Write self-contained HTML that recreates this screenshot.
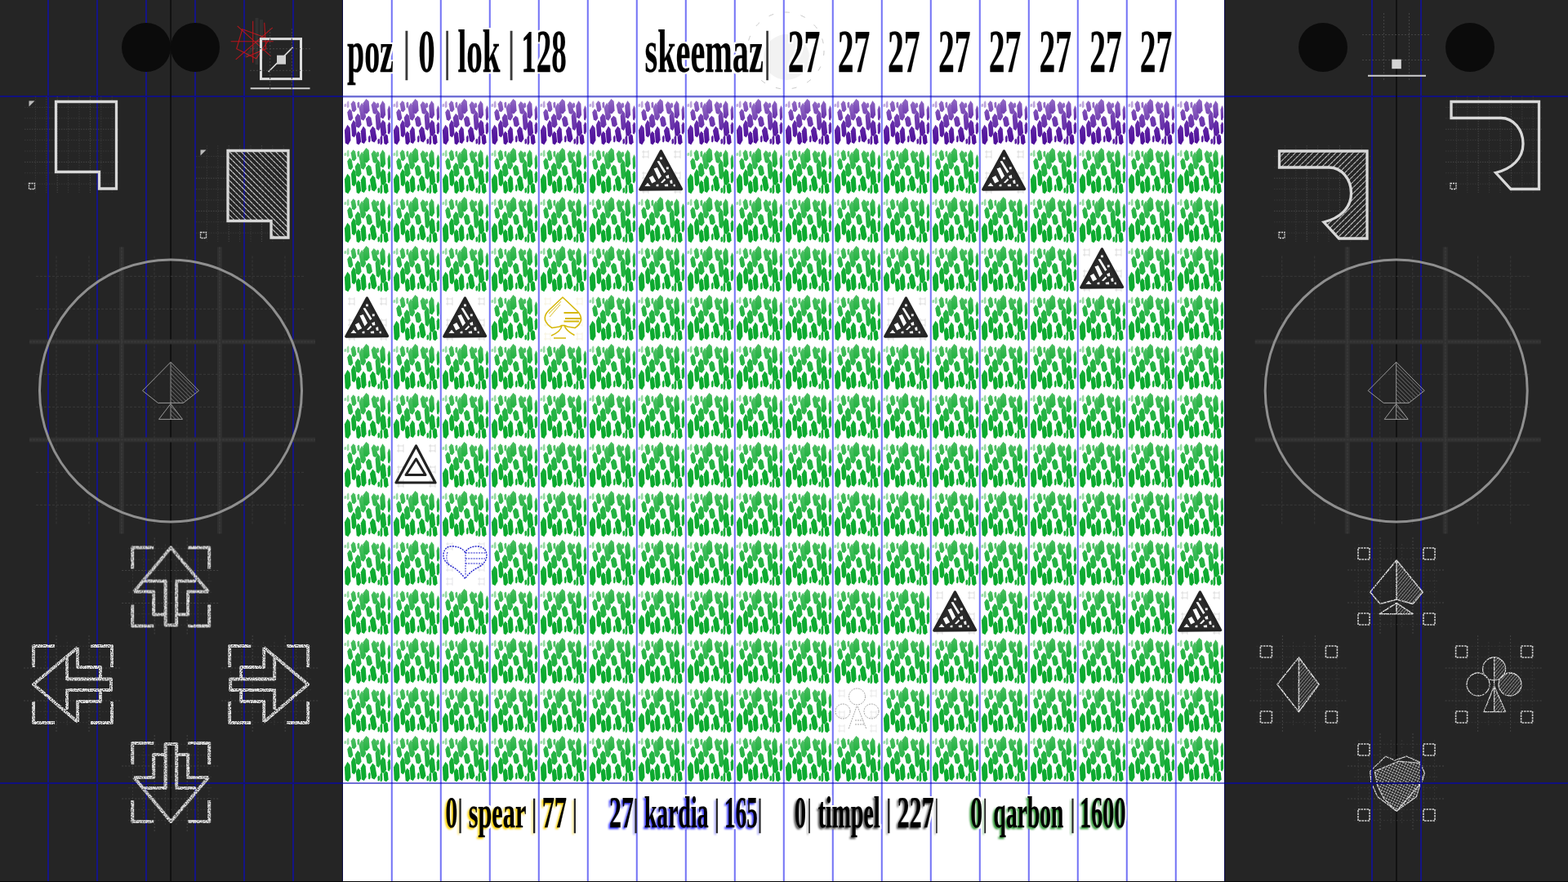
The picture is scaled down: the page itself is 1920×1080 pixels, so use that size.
<!DOCTYPE html><html><head><meta charset="utf-8"><title>board</title><style>html,body{margin:0;padding:0;background:#252525;overflow:hidden;width:1920px;height:1080px}svg{display:block}text{font-family:"Liberation Serif",serif;font-weight:bold}</style></head><body>
<svg width="1920" height="1080" viewBox="0 0 1920 1080">
<defs>
<linearGradient id="gG" gradientUnits="userSpaceOnUse" x1="0" y1="2" x2="0" y2="57"><stop offset="0" stop-color="#48bd5e"/><stop offset="0.35" stop-color="#1cb03c"/><stop offset="1" stop-color="#06a82a"/></linearGradient>
<linearGradient id="gP" gradientUnits="userSpaceOnUse" x1="0" y1="2" x2="0" y2="57"><stop offset="0" stop-color="#9068c4"/><stop offset="0.4" stop-color="#6a34ac"/><stop offset="1" stop-color="#4c0c98"/></linearGradient>
<pattern id="pG" patternUnits="userSpaceOnUse" x="420" y="120" width="60" height="60"><path fill="url(#gG)" fill-opacity="1.0" d="M5.5 32.8L8.7 36.7L9.5 51.8L6.3 57.2L2.7 55.2L1.9 39.6Z"/><path fill="url(#gG)" fill-opacity="0.95" d="M8.1 13.3L10.7 15.7L12.3 24.8L9.8 28.0L6.9 26.8L5.2 17.4Z"/><path fill="url(#gG)" fill-opacity="0.95" d="M12.5 3.3L15.0 5.5L16.5 14.1L13.9 17.2L11.1 16.1L9.7 7.2Z"/><path fill="url(#gG)" fill-opacity="1.0" d="M12.9 26.7L15.5 30.2L16.5 43.5L13.8 48.3L10.9 46.6L10.0 32.7Z"/><path fill="url(#gG)" fill-opacity="0.95" d="M18.0 18.9L21.1 21.7L22.6 32.8L19.5 36.7L16.1 35.3L14.7 23.9Z"/><path fill="url(#gG)" fill-opacity="1.0" d="M18.6 40.6L21.1 43.3L22.1 53.5L19.5 57.2L16.7 55.9L15.8 45.2Z"/><path fill="url(#gG)" fill-opacity="0.9" d="M18.9 4.4L20.2 5.6L20.4 10.5L19.0 12.2L17.6 11.6L17.4 6.6Z"/><path fill="url(#gG)" fill-opacity="0.9" d="M22.9 6.1L25.8 9.6L28.2 23.0L25.2 27.8L22.0 26.1L19.6 12.2Z"/><path fill="url(#gG)" fill-opacity="1.0" d="M28.4 1.1L31.7 4.0L32.6 15.4L29.2 19.4L25.5 17.9L24.6 6.2Z"/><path fill="url(#gG)" fill-opacity="1.0" d="M24.9 34.4L27.7 37.9L28.6 51.3L25.9 56.1L22.8 54.4L21.8 40.5Z"/><path fill="url(#gG)" fill-opacity="0.95" d="M31.3 21.7L34.3 23.9L36.0 32.5L33.0 35.6L29.6 34.5L27.9 25.6Z"/><path fill="url(#gG)" fill-opacity="1.0" d="M32.3 45.6L33.5 47.0L33.6 52.5L32.5 54.4L31.2 53.7L31.0 48.1Z"/><path fill="url(#gG)" fill-opacity="0.95" d="M37.7 3.9L40.4 6.5L42.6 16.5L39.8 20.0L36.8 18.7L34.6 8.4Z"/><path fill="url(#gG)" fill-opacity="1.0" d="M36.3 34.4L39.3 37.6L41.5 50.0L38.4 54.4L35.1 52.8L32.9 40.0Z"/><path fill="url(#gG)" fill-opacity="0.95" d="M42.6 15.0L45.3 19.0L46.5 34.5L43.8 40.0L40.8 38.0L39.6 22.0Z"/><path fill="url(#gG)" fill-opacity="0.9" d="M42.4 5.6L43.9 6.7L44.2 10.7L42.8 12.2L41.1 11.7L40.8 7.4Z"/><path fill="url(#gG)" fill-opacity="1.0" d="M48.4 3.3L51.3 6.9L52.1 20.7L49.2 25.6L46.0 23.8L45.2 9.5Z"/><path fill="url(#gG)" fill-opacity="1.0" d="M48.8 26.7L51.9 29.9L53.1 42.5L50.0 47.0L46.5 45.4L45.2 32.4Z"/><path fill="url(#gG)" fill-opacity="1.0" d="M52.4 44.0L54.8 46.1L55.6 54.3L53.1 57.2L50.4 56.1L49.6 47.7Z"/><path fill="url(#gG)" fill-opacity="1.0" d="M56.3 8.9L57.8 11.9L58.1 23.6L56.7 27.8L55.0 26.3L54.6 14.2Z"/><path fill="url(#gG)" fill-opacity="1.0" d="M56.4 28.9L58.0 31.4L58.1 41.0L56.6 44.4L54.8 43.2L54.6 33.2Z"/><path fill="url(#gG)" fill-opacity="0.95" d="M46.9 45.0L48.2 47.0L48.4 54.8L47.0 57.5L45.6 56.5L45.4 48.5Z"/><path fill="url(#gG)" fill-opacity="0.95" d="M43.7 49.5L44.8 50.6L45.0 55.0L43.8 56.5L42.6 55.9L42.4 51.5Z"/><path fill="url(#gG)" fill-opacity="0.5" d="M2.8 6.7L4.1 7.4L4.2 10.1L2.9 11.1L1.5 10.7L1.4 7.9Z"/><path fill="url(#gG)" fill-opacity="0.55" d="M6.1 3.3L7.4 4.7L7.5 10.2L6.2 12.2L4.8 11.5L4.7 5.8Z"/></pattern>
<pattern id="pP" patternUnits="userSpaceOnUse" x="420" y="120" width="60" height="60"><path fill="url(#gP)" fill-opacity="1.0" d="M5.5 32.8L8.7 36.7L9.5 51.8L6.3 57.2L2.7 55.2L1.9 39.6Z"/><path fill="url(#gP)" fill-opacity="0.95" d="M8.1 13.3L10.7 15.7L12.3 24.8L9.8 28.0L6.9 26.8L5.2 17.4Z"/><path fill="url(#gP)" fill-opacity="0.95" d="M12.5 3.3L15.0 5.5L16.5 14.1L13.9 17.2L11.1 16.1L9.7 7.2Z"/><path fill="url(#gP)" fill-opacity="1.0" d="M12.9 26.7L15.5 30.2L16.5 43.5L13.8 48.3L10.9 46.6L10.0 32.7Z"/><path fill="url(#gP)" fill-opacity="0.95" d="M18.0 18.9L21.1 21.7L22.6 32.8L19.5 36.7L16.1 35.3L14.7 23.9Z"/><path fill="url(#gP)" fill-opacity="1.0" d="M18.6 40.6L21.1 43.3L22.1 53.5L19.5 57.2L16.7 55.9L15.8 45.2Z"/><path fill="url(#gP)" fill-opacity="0.9" d="M18.9 4.4L20.2 5.6L20.4 10.5L19.0 12.2L17.6 11.6L17.4 6.6Z"/><path fill="url(#gP)" fill-opacity="0.9" d="M22.9 6.1L25.8 9.6L28.2 23.0L25.2 27.8L22.0 26.1L19.6 12.2Z"/><path fill="url(#gP)" fill-opacity="1.0" d="M28.4 1.1L31.7 4.0L32.6 15.4L29.2 19.4L25.5 17.9L24.6 6.2Z"/><path fill="url(#gP)" fill-opacity="1.0" d="M24.9 34.4L27.7 37.9L28.6 51.3L25.9 56.1L22.8 54.4L21.8 40.5Z"/><path fill="url(#gP)" fill-opacity="0.95" d="M31.3 21.7L34.3 23.9L36.0 32.5L33.0 35.6L29.6 34.5L27.9 25.6Z"/><path fill="url(#gP)" fill-opacity="1.0" d="M32.3 45.6L33.5 47.0L33.6 52.5L32.5 54.4L31.2 53.7L31.0 48.1Z"/><path fill="url(#gP)" fill-opacity="0.95" d="M37.7 3.9L40.4 6.5L42.6 16.5L39.8 20.0L36.8 18.7L34.6 8.4Z"/><path fill="url(#gP)" fill-opacity="1.0" d="M36.3 34.4L39.3 37.6L41.5 50.0L38.4 54.4L35.1 52.8L32.9 40.0Z"/><path fill="url(#gP)" fill-opacity="0.95" d="M42.6 15.0L45.3 19.0L46.5 34.5L43.8 40.0L40.8 38.0L39.6 22.0Z"/><path fill="url(#gP)" fill-opacity="0.9" d="M42.4 5.6L43.9 6.7L44.2 10.7L42.8 12.2L41.1 11.7L40.8 7.4Z"/><path fill="url(#gP)" fill-opacity="1.0" d="M48.4 3.3L51.3 6.9L52.1 20.7L49.2 25.6L46.0 23.8L45.2 9.5Z"/><path fill="url(#gP)" fill-opacity="1.0" d="M48.8 26.7L51.9 29.9L53.1 42.5L50.0 47.0L46.5 45.4L45.2 32.4Z"/><path fill="url(#gP)" fill-opacity="1.0" d="M52.4 44.0L54.8 46.1L55.6 54.3L53.1 57.2L50.4 56.1L49.6 47.7Z"/><path fill="url(#gP)" fill-opacity="1.0" d="M56.3 8.9L57.8 11.9L58.1 23.6L56.7 27.8L55.0 26.3L54.6 14.2Z"/><path fill="url(#gP)" fill-opacity="1.0" d="M56.4 28.9L58.0 31.4L58.1 41.0L56.6 44.4L54.8 43.2L54.6 33.2Z"/><path fill="url(#gP)" fill-opacity="0.95" d="M46.9 45.0L48.2 47.0L48.4 54.8L47.0 57.5L45.6 56.5L45.4 48.5Z"/><path fill="url(#gP)" fill-opacity="0.95" d="M43.7 49.5L44.8 50.6L45.0 55.0L43.8 56.5L42.6 55.9L42.4 51.5Z"/><path fill="url(#gP)" fill-opacity="0.5" d="M2.8 6.7L4.1 7.4L4.2 10.1L2.9 11.1L1.5 10.7L1.4 7.9Z"/><path fill="url(#gP)" fill-opacity="0.55" d="M6.1 3.3L7.4 4.7L7.5 10.2L6.2 12.2L4.8 11.5L4.7 5.8Z"/></pattern>
<pattern id="hatch" patternUnits="userSpaceOnUse" width="5" height="5" patternTransform="rotate(-45)"><rect width="5" height="5" fill="#000" fill-opacity="0.0"/><line x1="0" y1="0" x2="0" y2="5" stroke="#e4e4e4" stroke-width="1.9" stroke-dasharray="2.4 0.6"/></pattern>
<filter id="chalkf" x="-5%" y="-5%" width="110%" height="110%" filterUnits="objectBoundingBox"><feTurbulence type="fractalNoise" baseFrequency="0.8" numOctaves="2" seed="7" result="n"/><feColorMatrix in="n" type="matrix" values="0 0 0 0 0  0 0 0 0 0  0 0 0 0 0  0 0 0 -3.4 2.6" result="m"/><feComposite in="SourceGraphic" in2="m" operator="in"/></filter>
</defs>
<rect width="1920" height="1080" fill="#252525"/>
<rect x="420" y="0" width="1080" height="1080" fill="#fff"/>
<rect x="420" y="120" width="1080" height="60" fill="url(#pP)"/>
<rect x="420" y="180" width="1080" height="780" fill="url(#pG)"/>
<rect x="780" y="180" width="60" height="60" fill="#fff"/>
<g stroke="#999" stroke-width="0.6" fill="none" opacity="0.5"><path d="M786 186h8M786 192h8M788 184v10M794 184v10"/><path d="M825 186h8M825 192h8M827 184v10M833 184v10"/><path d="M786 212h8M786 218h8M788 210v10M794 210v10"/><path d="M825 212h8M825 218h8M827 210v10M833 210v10"/><path d="M786 229h8M786 235h8M788 227v10M794 227v10"/><path d="M825 229h8M825 235h8M827 227v10M833 227v10"/></g>
<g transform="translate(780,180)"><path d="M29.4 5 L54.5 51.5 L3.8 52 Z" fill="#2b2b2b" stroke="#242424" stroke-width="3.4" stroke-linejoin="round"/><path fill="#fff" d="M24.5 17.5 L27.2 17 L35.5 30.5 L33.2 32 Z M20.5 26.5 L24.8 25 L30 35.5 L26.5 39.5 Z M14.8 37.5 L19.2 35 L23.2 42 L18.2 44.5 Z M9.5 48 L13 43.8 L16.5 48 Z M29 43.5 L33.8 38.4 L35.2 40.2 L31 44.3 Z M35.2 35.5 L38.8 34 L39.4 38.2 L36.2 38.4 Z M40.2 41 L43 40.2 L43.6 44.8 L40.8 44.8 Z M33.6 46 L37.8 45.2 L38.2 48.2 L34.2 48.2 Z M23.6 46 L26.4 45.6 L26.4 48.2 L23.6 48.2 Z M35.8 24.6 L38.8 24.4 L38.6 27.2 L36 27.2 Z M28 12.6 L30.8 12.6 L30.8 15.2 L28.2 15.2 Z M44.5 46 L46.5 45.5 L47 48.3 L44.8 48.3 Z"/></g>
<rect x="1200" y="180" width="60" height="60" fill="#fff"/>
<g stroke="#999" stroke-width="0.6" fill="none" opacity="0.5"><path d="M1206 186h8M1206 192h8M1208 184v10M1214 184v10"/><path d="M1245 186h8M1245 192h8M1247 184v10M1253 184v10"/><path d="M1206 212h8M1206 218h8M1208 210v10M1214 210v10"/><path d="M1245 212h8M1245 218h8M1247 210v10M1253 210v10"/><path d="M1206 229h8M1206 235h8M1208 227v10M1214 227v10"/><path d="M1245 229h8M1245 235h8M1247 227v10M1253 227v10"/></g>
<g transform="translate(1200,180)"><path d="M29.4 5 L54.5 51.5 L3.8 52 Z" fill="#2b2b2b" stroke="#242424" stroke-width="3.4" stroke-linejoin="round"/><path fill="#fff" d="M24.5 17.5 L27.2 17 L35.5 30.5 L33.2 32 Z M20.5 26.5 L24.8 25 L30 35.5 L26.5 39.5 Z M14.8 37.5 L19.2 35 L23.2 42 L18.2 44.5 Z M9.5 48 L13 43.8 L16.5 48 Z M29 43.5 L33.8 38.4 L35.2 40.2 L31 44.3 Z M35.2 35.5 L38.8 34 L39.4 38.2 L36.2 38.4 Z M40.2 41 L43 40.2 L43.6 44.8 L40.8 44.8 Z M33.6 46 L37.8 45.2 L38.2 48.2 L34.2 48.2 Z M23.6 46 L26.4 45.6 L26.4 48.2 L23.6 48.2 Z M35.8 24.6 L38.8 24.4 L38.6 27.2 L36 27.2 Z M28 12.6 L30.8 12.6 L30.8 15.2 L28.2 15.2 Z M44.5 46 L46.5 45.5 L47 48.3 L44.8 48.3 Z"/></g>
<rect x="1320" y="300" width="60" height="60" fill="#fff"/>
<g stroke="#999" stroke-width="0.6" fill="none" opacity="0.5"><path d="M1326 306h8M1326 312h8M1328 304v10M1334 304v10"/><path d="M1365 306h8M1365 312h8M1367 304v10M1373 304v10"/><path d="M1326 332h8M1326 338h8M1328 330v10M1334 330v10"/><path d="M1365 332h8M1365 338h8M1367 330v10M1373 330v10"/><path d="M1326 349h8M1326 355h8M1328 347v10M1334 347v10"/><path d="M1365 349h8M1365 355h8M1367 347v10M1373 347v10"/></g>
<g transform="translate(1320,300)"><path d="M29.4 5 L54.5 51.5 L3.8 52 Z" fill="#2b2b2b" stroke="#242424" stroke-width="3.4" stroke-linejoin="round"/><path fill="#fff" d="M24.5 17.5 L27.2 17 L35.5 30.5 L33.2 32 Z M20.5 26.5 L24.8 25 L30 35.5 L26.5 39.5 Z M14.8 37.5 L19.2 35 L23.2 42 L18.2 44.5 Z M9.5 48 L13 43.8 L16.5 48 Z M29 43.5 L33.8 38.4 L35.2 40.2 L31 44.3 Z M35.2 35.5 L38.8 34 L39.4 38.2 L36.2 38.4 Z M40.2 41 L43 40.2 L43.6 44.8 L40.8 44.8 Z M33.6 46 L37.8 45.2 L38.2 48.2 L34.2 48.2 Z M23.6 46 L26.4 45.6 L26.4 48.2 L23.6 48.2 Z M35.8 24.6 L38.8 24.4 L38.6 27.2 L36 27.2 Z M28 12.6 L30.8 12.6 L30.8 15.2 L28.2 15.2 Z M44.5 46 L46.5 45.5 L47 48.3 L44.8 48.3 Z"/></g>
<rect x="420" y="360" width="60" height="60" fill="#fff"/>
<g stroke="#999" stroke-width="0.6" fill="none" opacity="0.5"><path d="M426 366h8M426 372h8M428 364v10M434 364v10"/><path d="M465 366h8M465 372h8M467 364v10M473 364v10"/><path d="M426 392h8M426 398h8M428 390v10M434 390v10"/><path d="M465 392h8M465 398h8M467 390v10M473 390v10"/><path d="M426 409h8M426 415h8M428 407v10M434 407v10"/><path d="M465 409h8M465 415h8M467 407v10M473 407v10"/></g>
<g transform="translate(420,360)"><path d="M29.4 5 L54.5 51.5 L3.8 52 Z" fill="#2b2b2b" stroke="#242424" stroke-width="3.4" stroke-linejoin="round"/><path fill="#fff" d="M24.5 17.5 L27.2 17 L35.5 30.5 L33.2 32 Z M20.5 26.5 L24.8 25 L30 35.5 L26.5 39.5 Z M14.8 37.5 L19.2 35 L23.2 42 L18.2 44.5 Z M9.5 48 L13 43.8 L16.5 48 Z M29 43.5 L33.8 38.4 L35.2 40.2 L31 44.3 Z M35.2 35.5 L38.8 34 L39.4 38.2 L36.2 38.4 Z M40.2 41 L43 40.2 L43.6 44.8 L40.8 44.8 Z M33.6 46 L37.8 45.2 L38.2 48.2 L34.2 48.2 Z M23.6 46 L26.4 45.6 L26.4 48.2 L23.6 48.2 Z M35.8 24.6 L38.8 24.4 L38.6 27.2 L36 27.2 Z M28 12.6 L30.8 12.6 L30.8 15.2 L28.2 15.2 Z M44.5 46 L46.5 45.5 L47 48.3 L44.8 48.3 Z"/></g>
<rect x="540" y="360" width="60" height="60" fill="#fff"/>
<g stroke="#999" stroke-width="0.6" fill="none" opacity="0.5"><path d="M546 366h8M546 372h8M548 364v10M554 364v10"/><path d="M585 366h8M585 372h8M587 364v10M593 364v10"/><path d="M546 392h8M546 398h8M548 390v10M554 390v10"/><path d="M585 392h8M585 398h8M587 390v10M593 390v10"/><path d="M546 409h8M546 415h8M548 407v10M554 407v10"/><path d="M585 409h8M585 415h8M587 407v10M593 407v10"/></g>
<g transform="translate(540,360)"><path d="M29.4 5 L54.5 51.5 L3.8 52 Z" fill="#2b2b2b" stroke="#242424" stroke-width="3.4" stroke-linejoin="round"/><path fill="#fff" d="M24.5 17.5 L27.2 17 L35.5 30.5 L33.2 32 Z M20.5 26.5 L24.8 25 L30 35.5 L26.5 39.5 Z M14.8 37.5 L19.2 35 L23.2 42 L18.2 44.5 Z M9.5 48 L13 43.8 L16.5 48 Z M29 43.5 L33.8 38.4 L35.2 40.2 L31 44.3 Z M35.2 35.5 L38.8 34 L39.4 38.2 L36.2 38.4 Z M40.2 41 L43 40.2 L43.6 44.8 L40.8 44.8 Z M33.6 46 L37.8 45.2 L38.2 48.2 L34.2 48.2 Z M23.6 46 L26.4 45.6 L26.4 48.2 L23.6 48.2 Z M35.8 24.6 L38.8 24.4 L38.6 27.2 L36 27.2 Z M28 12.6 L30.8 12.6 L30.8 15.2 L28.2 15.2 Z M44.5 46 L46.5 45.5 L47 48.3 L44.8 48.3 Z"/></g>
<rect x="660" y="360" width="60" height="60" fill="#fff"/>
<g stroke="#e8dc9a" stroke-width="0.6" fill="none" opacity="0.5"><path d="M666 366h8M666 372h8M668 364v10M674 364v10"/><path d="M705 366h8M705 372h8M707 364v10M713 364v10"/><path d="M666 392h8M666 398h8M668 390v10M674 390v10"/><path d="M705 392h8M705 398h8M707 390v10M713 390v10"/><path d="M666 409h8M666 415h8M668 407v10M674 407v10"/><path d="M705 409h8M705 415h8M707 407v10M713 407v10"/></g>
<g transform="translate(660,360)" fill="none" stroke="#d6b80a" stroke-width="1.6" stroke-linejoin="round"><path d="M29 4 L12 20 Q6 26 7.5 32 Q10 38 16 41.5 L25 40 L28 38.5 L31 38.5 L35 40 L44 41.5 Q50 38 51.5 32 Q52 26 47 21 Z"/><path d="M28 38.5 Q27 46 15 51 M31 38.5 Q33 45 43.5 50.5 M18 54 H33"/><path d="M30.5 23 H48 M32 30 H51 M30.5 33.5 H49" stroke-width="1.8"/><path d="M27 9 L12 24 M26 13 L13 28" stroke-width="0.9"/></g>
<rect x="1080" y="360" width="60" height="60" fill="#fff"/>
<g stroke="#999" stroke-width="0.6" fill="none" opacity="0.5"><path d="M1086 366h8M1086 372h8M1088 364v10M1094 364v10"/><path d="M1125 366h8M1125 372h8M1127 364v10M1133 364v10"/><path d="M1086 392h8M1086 398h8M1088 390v10M1094 390v10"/><path d="M1125 392h8M1125 398h8M1127 390v10M1133 390v10"/><path d="M1086 409h8M1086 415h8M1088 407v10M1094 407v10"/><path d="M1125 409h8M1125 415h8M1127 407v10M1133 407v10"/></g>
<g transform="translate(1080,360)"><path d="M29.4 5 L54.5 51.5 L3.8 52 Z" fill="#2b2b2b" stroke="#242424" stroke-width="3.4" stroke-linejoin="round"/><path fill="#fff" d="M24.5 17.5 L27.2 17 L35.5 30.5 L33.2 32 Z M20.5 26.5 L24.8 25 L30 35.5 L26.5 39.5 Z M14.8 37.5 L19.2 35 L23.2 42 L18.2 44.5 Z M9.5 48 L13 43.8 L16.5 48 Z M29 43.5 L33.8 38.4 L35.2 40.2 L31 44.3 Z M35.2 35.5 L38.8 34 L39.4 38.2 L36.2 38.4 Z M40.2 41 L43 40.2 L43.6 44.8 L40.8 44.8 Z M33.6 46 L37.8 45.2 L38.2 48.2 L34.2 48.2 Z M23.6 46 L26.4 45.6 L26.4 48.2 L23.6 48.2 Z M35.8 24.6 L38.8 24.4 L38.6 27.2 L36 27.2 Z M28 12.6 L30.8 12.6 L30.8 15.2 L28.2 15.2 Z M44.5 46 L46.5 45.5 L47 48.3 L44.8 48.3 Z"/></g>
<rect x="480" y="540" width="60" height="60" fill="#fff"/>
<g stroke="#999" stroke-width="0.6" fill="none" opacity="0.5"><path d="M486 546h8M486 552h8M488 544v10M494 544v10"/><path d="M525 546h8M525 552h8M527 544v10M533 544v10"/><path d="M486 572h8M486 578h8M488 570v10M494 570v10"/><path d="M525 572h8M525 578h8M527 570v10M533 570v10"/><path d="M486 589h8M486 595h8M488 587v10M494 587v10"/><path d="M525 589h8M525 595h8M527 587v10M533 587v10"/></g>
<g transform="translate(480,540)" fill="none" stroke="#222" stroke-linejoin="round"><path d="M29.5 6 L53 51 L5 51 Z" stroke-width="3.2"/><path d="M29.5 22 L41 41.5 L17 41.5 Z" stroke-width="3"/></g>
<rect x="540" y="660" width="60" height="60" fill="#fff"/>
<g stroke="#aab" stroke-width="0.6" fill="none" opacity="0.5"><path d="M546 666h8M546 672h8M548 664v10M554 664v10"/><path d="M585 666h8M585 672h8M587 664v10M593 664v10"/><path d="M546 692h8M546 698h8M548 690v10M554 690v10"/><path d="M585 692h8M585 698h8M587 690v10M593 690v10"/><path d="M546 709h8M546 715h8M548 707v10M554 707v10"/><path d="M585 709h8M585 715h8M587 707v10M593 707v10"/></g>
<g transform="translate(540,660)" fill="none" stroke="#2222cc" stroke-width="1.4" stroke-dasharray="2 1.2"><path d="M29.5 48.5 Q22 38 12 33 Q2 27 3 18 Q5 8.5 14 9 Q24 9 29.5 16 Q35 8.5 45 9 Q56 10 56 21 Q55 29 47 34 Q35 40 29.5 48.5 Z"/><path d="M8 16 Q5 25 10 31 M30 16 V45 M30 17 H55 M30 24 H54 M30 30 H50" stroke-width="1"/></g>
<rect x="1140" y="720" width="60" height="60" fill="#fff"/>
<g stroke="#999" stroke-width="0.6" fill="none" opacity="0.5"><path d="M1146 726h8M1146 732h8M1148 724v10M1154 724v10"/><path d="M1185 726h8M1185 732h8M1187 724v10M1193 724v10"/><path d="M1146 752h8M1146 758h8M1148 750v10M1154 750v10"/><path d="M1185 752h8M1185 758h8M1187 750v10M1193 750v10"/><path d="M1146 769h8M1146 775h8M1148 767v10M1154 767v10"/><path d="M1185 769h8M1185 775h8M1187 767v10M1193 767v10"/></g>
<g transform="translate(1140,720)"><path d="M29.4 5 L54.5 51.5 L3.8 52 Z" fill="#2b2b2b" stroke="#242424" stroke-width="3.4" stroke-linejoin="round"/><path fill="#fff" d="M24.5 17.5 L27.2 17 L35.5 30.5 L33.2 32 Z M20.5 26.5 L24.8 25 L30 35.5 L26.5 39.5 Z M14.8 37.5 L19.2 35 L23.2 42 L18.2 44.5 Z M9.5 48 L13 43.8 L16.5 48 Z M29 43.5 L33.8 38.4 L35.2 40.2 L31 44.3 Z M35.2 35.5 L38.8 34 L39.4 38.2 L36.2 38.4 Z M40.2 41 L43 40.2 L43.6 44.8 L40.8 44.8 Z M33.6 46 L37.8 45.2 L38.2 48.2 L34.2 48.2 Z M23.6 46 L26.4 45.6 L26.4 48.2 L23.6 48.2 Z M35.8 24.6 L38.8 24.4 L38.6 27.2 L36 27.2 Z M28 12.6 L30.8 12.6 L30.8 15.2 L28.2 15.2 Z M44.5 46 L46.5 45.5 L47 48.3 L44.8 48.3 Z"/></g>
<rect x="1440" y="720" width="60" height="60" fill="#fff"/>
<g stroke="#999" stroke-width="0.6" fill="none" opacity="0.5"><path d="M1446 726h8M1446 732h8M1448 724v10M1454 724v10"/><path d="M1485 726h8M1485 732h8M1487 724v10M1493 724v10"/><path d="M1446 752h8M1446 758h8M1448 750v10M1454 750v10"/><path d="M1485 752h8M1485 758h8M1487 750v10M1493 750v10"/><path d="M1446 769h8M1446 775h8M1448 767v10M1454 767v10"/><path d="M1485 769h8M1485 775h8M1487 767v10M1493 767v10"/></g>
<g transform="translate(1440,720)"><path d="M29.4 5 L54.5 51.5 L3.8 52 Z" fill="#2b2b2b" stroke="#242424" stroke-width="3.4" stroke-linejoin="round"/><path fill="#fff" d="M24.5 17.5 L27.2 17 L35.5 30.5 L33.2 32 Z M20.5 26.5 L24.8 25 L30 35.5 L26.5 39.5 Z M14.8 37.5 L19.2 35 L23.2 42 L18.2 44.5 Z M9.5 48 L13 43.8 L16.5 48 Z M29 43.5 L33.8 38.4 L35.2 40.2 L31 44.3 Z M35.2 35.5 L38.8 34 L39.4 38.2 L36.2 38.4 Z M40.2 41 L43 40.2 L43.6 44.8 L40.8 44.8 Z M33.6 46 L37.8 45.2 L38.2 48.2 L34.2 48.2 Z M23.6 46 L26.4 45.6 L26.4 48.2 L23.6 48.2 Z M35.8 24.6 L38.8 24.4 L38.6 27.2 L36 27.2 Z M28 12.6 L30.8 12.6 L30.8 15.2 L28.2 15.2 Z M44.5 46 L46.5 45.5 L47 48.3 L44.8 48.3 Z"/></g>
<rect x="1020" y="840" width="60" height="60" fill="#fff"/>
<g stroke="#bbb" stroke-width="0.6" fill="none" opacity="0.5"><path d="M1026 846h8M1026 852h8M1028 844v10M1034 844v10"/><path d="M1065 846h8M1065 852h8M1067 844v10M1073 844v10"/><path d="M1026 872h8M1026 878h8M1028 870v10M1034 870v10"/><path d="M1065 872h8M1065 878h8M1067 870v10M1073 870v10"/><path d="M1026 889h8M1026 895h8M1028 887v10M1034 887v10"/><path d="M1065 889h8M1065 895h8M1067 887v10M1073 887v10"/></g>
<g transform="translate(1020,840)" fill="none" stroke="#9a9a9a" stroke-width="0.9" stroke-dasharray="2 1"><circle cx="29.5" cy="13" r="10"/><circle cx="12" cy="31" r="9"/><circle cx="47" cy="31" r="9"/><path d="M29 25 L19 53 M30 25 L41 53 M27 47 H38 M27 42 H37"/></g>
<circle cx="963" cy="70" r="28" fill="#f2f2f2"/>
<circle cx="962" cy="62" r="47" fill="none" stroke="#bbb" stroke-width="0.8" stroke-dasharray="6 14"/>
<g fill="#0000ed" fill-opacity="0.54"><rect x="478.75" y="0" width="2.05" height="1080"/><rect x="538.75" y="0" width="2.05" height="1080"/><rect x="598.75" y="0" width="2.05" height="1080"/><rect x="658.75" y="0" width="2.05" height="1080"/><rect x="718.75" y="0" width="2.05" height="1080"/><rect x="778.75" y="0" width="2.05" height="1080"/><rect x="838.75" y="0" width="2.05" height="1080"/><rect x="898.75" y="0" width="2.05" height="1080"/><rect x="958.75" y="0" width="2.05" height="1080"/><rect x="1018.75" y="0" width="2.05" height="1080"/><rect x="1078.75" y="0" width="2.05" height="1080"/><rect x="1138.75" y="0" width="2.05" height="1080"/><rect x="1198.75" y="0" width="2.05" height="1080"/><rect x="1258.75" y="0" width="2.05" height="1080"/><rect x="1318.75" y="0" width="2.05" height="1080"/><rect x="1378.75" y="0" width="2.05" height="1080"/><rect x="1438.75" y="0" width="2.05" height="1080"/></g>
<g fill="#141486"><rect x="58" y="0" width="2" height="1080"/><rect x="118" y="0" width="2" height="1080"/><rect x="178" y="0" width="2" height="1080"/><rect x="238" y="0" width="2" height="1080"/><rect x="298" y="0" width="2" height="1080"/><rect x="358" y="0" width="2" height="1080"/><rect x="1679" y="0" width="2" height="1080"/><rect x="1739" y="0" width="2" height="1080"/></g>
<rect x="1499" y="0" width="1" height="1080" fill="#0a0a50"/><rect x="419" y="0" width="1" height="1080" fill="#0a0a40"/><rect x="0" y="1079" width="1920" height="1" fill="#050505"/>
<g fill="#0000b4" fill-opacity="0.56"><rect x="420" y="117" width="1080" height="2"/><rect x="420" y="958" width="1080" height="2"/></g>
<g fill="#0000c8" fill-opacity="0.25"><rect x="420" y="119" width="1080" height="1"/></g>
<g fill="#10107e"><rect x="0" y="117" width="420" height="2"/><rect x="1500" y="117" width="420" height="2"/><rect x="0" y="958" width="420" height="2"/><rect x="1500" y="958" width="420" height="2"/></g>
<g font-family="Liberation Serif, serif" font-weight="bold" style="font-kerning:none"><text x="425.12" y="88.00" font-size="74.50" textLength="56.81" lengthAdjust="spacingAndGlyphs" fill="#000" stroke="#000" stroke-width="0.25" filter="url(#haloF)">poz</text><text x="512.19" y="88.00" font-size="75.00" textLength="20.47" lengthAdjust="spacingAndGlyphs" fill="#000" stroke="#000" stroke-width="0.25" filter="url(#haloF)">0</text><text x="560.49" y="88.00" font-size="74.50" textLength="52.07" lengthAdjust="spacingAndGlyphs" fill="#000" stroke="#000" stroke-width="0.25" filter="url(#haloF)">lok</text><text x="638.29" y="88.00" font-size="75.00" textLength="55.44" lengthAdjust="spacingAndGlyphs" fill="#000" stroke="#000" stroke-width="0.25" filter="url(#haloF)">128</text><text x="789.58" y="88.00" font-size="74.50" textLength="145.20" lengthAdjust="spacingAndGlyphs" fill="#000" stroke="#000" stroke-width="0.25" filter="url(#haloF)">skeemaz</text><text x="964.64" y="88.00" font-size="75.00" textLength="39.52" lengthAdjust="spacingAndGlyphs" fill="#000" stroke="#000" stroke-width="0.25" filter="url(#haloF)">27</text><text x="1025.84" y="88.00" font-size="75.00" textLength="39.52" lengthAdjust="spacingAndGlyphs" fill="#000" stroke="#000" stroke-width="0.25" filter="url(#haloF)">27</text><text x="1087.09" y="88.00" font-size="75.00" textLength="39.52" lengthAdjust="spacingAndGlyphs" fill="#000" stroke="#000" stroke-width="0.25" filter="url(#haloF)">27</text><text x="1148.94" y="88.00" font-size="75.00" textLength="39.52" lengthAdjust="spacingAndGlyphs" fill="#000" stroke="#000" stroke-width="0.25" filter="url(#haloF)">27</text><text x="1210.84" y="88.00" font-size="75.00" textLength="39.52" lengthAdjust="spacingAndGlyphs" fill="#000" stroke="#000" stroke-width="0.25" filter="url(#haloF)">27</text><text x="1272.54" y="88.00" font-size="75.00" textLength="39.52" lengthAdjust="spacingAndGlyphs" fill="#000" stroke="#000" stroke-width="0.25" filter="url(#haloF)">27</text><text x="1334.24" y="88.00" font-size="75.00" textLength="39.52" lengthAdjust="spacingAndGlyphs" fill="#000" stroke="#000" stroke-width="0.25" filter="url(#haloF)">27</text><text x="1395.84" y="88.00" font-size="75.00" textLength="39.52" lengthAdjust="spacingAndGlyphs" fill="#000" stroke="#000" stroke-width="0.25" filter="url(#haloF)">27</text><text x="493.70" y="83.60" font-size="65.80" textLength="8.20" lengthAdjust="spacingAndGlyphs" fill="#3a3a3a" stroke="#3a3a3a" stroke-width="0.3">|</text><text x="543.60" y="83.60" font-size="65.80" textLength="8.20" lengthAdjust="spacingAndGlyphs" fill="#3a3a3a" stroke="#3a3a3a" stroke-width="0.3">|</text><text x="621.90" y="83.60" font-size="65.80" textLength="8.20" lengthAdjust="spacingAndGlyphs" fill="#3a3a3a" stroke="#3a3a3a" stroke-width="0.3">|</text><text x="935.60" y="83.60" font-size="65.80" textLength="8.20" lengthAdjust="spacingAndGlyphs" fill="#3a3a3a" stroke="#3a3a3a" stroke-width="0.3">|</text></g>
<defs><filter id="haloF" x="-20%" y="-25%" width="140%" height="150%" color-interpolation-filters="sRGB"><feMorphology in="SourceAlpha" operator="dilate" radius="2.4" result="d"/><feFlood flood-color="#fff"/><feComposite in2="d" operator="in" result="halo"/><feMerge><feMergeNode in="halo"/><feMergeNode in="SourceGraphic"/></feMerge></filter><filter id="shY" x="-20%" y="-25%" width="140%" height="150%" color-interpolation-filters="sRGB"><feMorphology in="SourceAlpha" operator="dilate" radius="2.2" result="d"/><feFlood flood-color="#fff"/><feComposite in2="d" operator="in" result="halo"/><feGaussianBlur in="SourceAlpha" stdDeviation="1.1"/><feOffset dx="-2" dy="2" result="b"/><feFlood flood-color="#ffd200"/><feComposite in2="b" operator="in" result="sh"/><feMerge><feMergeNode in="halo"/><feMergeNode in="sh"/><feMergeNode in="SourceGraphic"/></feMerge></filter><filter id="shB" x="-20%" y="-25%" width="140%" height="150%" color-interpolation-filters="sRGB"><feMorphology in="SourceAlpha" operator="dilate" radius="2.2" result="d"/><feFlood flood-color="#fff"/><feComposite in2="d" operator="in" result="halo"/><feGaussianBlur in="SourceAlpha" stdDeviation="1.1"/><feOffset dx="-2" dy="2" result="b"/><feFlood flood-color="#3a3aff"/><feComposite in2="b" operator="in" result="sh"/><feMerge><feMergeNode in="halo"/><feMergeNode in="sh"/><feMergeNode in="SourceGraphic"/></feMerge></filter><filter id="shK" x="-20%" y="-25%" width="140%" height="150%" color-interpolation-filters="sRGB"><feMorphology in="SourceAlpha" operator="dilate" radius="2.2" result="d"/><feFlood flood-color="#fff"/><feComposite in2="d" operator="in" result="halo"/><feGaussianBlur in="SourceAlpha" stdDeviation="1.3"/><feOffset dx="-2" dy="2" result="b"/><feFlood flood-color="#555"/><feComposite in2="b" operator="in" result="sh"/><feMerge><feMergeNode in="halo"/><feMergeNode in="sh"/><feMergeNode in="SourceGraphic"/></feMerge></filter><filter id="shG" x="-20%" y="-25%" width="140%" height="150%" color-interpolation-filters="sRGB"><feMorphology in="SourceAlpha" operator="dilate" radius="2.2" result="d"/><feFlood flood-color="#fff"/><feComposite in2="d" operator="in" result="halo"/><feGaussianBlur in="SourceAlpha" stdDeviation="1.1"/><feOffset dx="-2" dy="2" result="b"/><feFlood flood-color="#2f9a35"/><feComposite in2="b" operator="in" result="sh"/><feMerge><feMergeNode in="halo"/><feMergeNode in="sh"/><feMergeNode in="SourceGraphic"/></feMerge></filter><filter id="shYb" x="-20%" y="-25%" width="140%" height="150%" color-interpolation-filters="sRGB"><feGaussianBlur in="SourceAlpha" stdDeviation="1.1"/><feOffset dx="-2" dy="2" result="b"/><feFlood flood-color="#ffd200" flood-opacity="0.45"/><feComposite in2="b" operator="in" result="sh"/><feMerge><feMergeNode in="sh"/><feMergeNode in="SourceGraphic"/></feMerge></filter><filter id="shBb" x="-20%" y="-25%" width="140%" height="150%" color-interpolation-filters="sRGB"><feGaussianBlur in="SourceAlpha" stdDeviation="1.1"/><feOffset dx="-2" dy="2" result="b"/><feFlood flood-color="#3a3aff" flood-opacity="0.45"/><feComposite in2="b" operator="in" result="sh"/><feMerge><feMergeNode in="sh"/><feMergeNode in="SourceGraphic"/></feMerge></filter><filter id="shKb" x="-20%" y="-25%" width="140%" height="150%" color-interpolation-filters="sRGB"><feGaussianBlur in="SourceAlpha" stdDeviation="1.3"/><feOffset dx="-2" dy="2" result="b"/><feFlood flood-color="#555" flood-opacity="0.45"/><feComposite in2="b" operator="in" result="sh"/><feMerge><feMergeNode in="sh"/><feMergeNode in="SourceGraphic"/></feMerge></filter><filter id="shGb" x="-20%" y="-25%" width="140%" height="150%" color-interpolation-filters="sRGB"><feGaussianBlur in="SourceAlpha" stdDeviation="1.1"/><feOffset dx="-2" dy="2" result="b"/><feFlood flood-color="#2f9a35" flood-opacity="0.45"/><feComposite in2="b" operator="in" result="sh"/><feMerge><feMergeNode in="sh"/><feMergeNode in="SourceGraphic"/></feMerge></filter></defs>
<g font-family="Liberation Serif, serif" font-weight="bold" style="font-kerning:none"><text x="545.58" y="1013.00" font-size="54.50" textLength="14.75" lengthAdjust="spacingAndGlyphs" fill="#000" stroke="#000" stroke-width="0.25" filter="url(#shY)">0</text><text x="560.24" y="1009.50" font-size="46.90" textLength="6.62" lengthAdjust="spacingAndGlyphs" fill="#222" stroke="#222" stroke-width="0.3" filter="url(#shYb)">|</text><text x="573.68" y="1013.00" font-size="54.00" textLength="70.72" lengthAdjust="spacingAndGlyphs" fill="#000" stroke="#000" stroke-width="0.25" filter="url(#shY)">spear</text><text x="650.64" y="1009.50" font-size="46.90" textLength="6.62" lengthAdjust="spacingAndGlyphs" fill="#222" stroke="#222" stroke-width="0.3" filter="url(#shYb)">|</text><text x="663.66" y="1013.00" font-size="54.50" textLength="30.38" lengthAdjust="spacingAndGlyphs" fill="#000" stroke="#000" stroke-width="0.25" filter="url(#shY)">77</text><text x="700.85" y="1009.50" font-size="46.90" textLength="6.31" lengthAdjust="spacingAndGlyphs" fill="#222" stroke="#222" stroke-width="0.3" filter="url(#shYb)">|</text><text x="746.04" y="1013.00" font-size="54.50" textLength="29.99" lengthAdjust="spacingAndGlyphs" fill="#000" stroke="#000" stroke-width="0.25" filter="url(#shB)">27</text><text x="775.24" y="1009.50" font-size="46.90" textLength="6.62" lengthAdjust="spacingAndGlyphs" fill="#222" stroke="#222" stroke-width="0.3" filter="url(#shBb)">|</text><text x="788.91" y="1013.00" font-size="54.00" textLength="78.61" lengthAdjust="spacingAndGlyphs" fill="#000" stroke="#000" stroke-width="0.25" filter="url(#shB)">kardia</text><text x="874.65" y="1009.50" font-size="46.90" textLength="6.31" lengthAdjust="spacingAndGlyphs" fill="#222" stroke="#222" stroke-width="0.3" filter="url(#shBb)">|</text><text x="887.01" y="1013.00" font-size="54.50" textLength="40.99" lengthAdjust="spacingAndGlyphs" fill="#000" stroke="#000" stroke-width="0.25" filter="url(#shB)">165</text><text x="927.55" y="1009.50" font-size="46.90" textLength="5.99" lengthAdjust="spacingAndGlyphs" fill="#222" stroke="#222" stroke-width="0.3" filter="url(#shBb)">|</text><text x="973.03" y="1013.00" font-size="54.50" textLength="14.04" lengthAdjust="spacingAndGlyphs" fill="#000" stroke="#000" stroke-width="0.25" filter="url(#shK)">0</text><text x="988.48" y="1009.50" font-size="46.90" textLength="5.05" lengthAdjust="spacingAndGlyphs" fill="#222" stroke="#222" stroke-width="0.3" filter="url(#shKb)">|</text><text x="1001.75" y="1013.00" font-size="54.00" textLength="75.93" lengthAdjust="spacingAndGlyphs" fill="#000" stroke="#000" stroke-width="0.25" filter="url(#shK)">timpel</text><text x="1084.63" y="1009.50" font-size="46.90" textLength="6.94" lengthAdjust="spacingAndGlyphs" fill="#222" stroke="#222" stroke-width="0.3" filter="url(#shKb)">|</text><text x="1098.85" y="1013.00" font-size="54.50" textLength="44.68" lengthAdjust="spacingAndGlyphs" fill="#000" stroke="#000" stroke-width="0.25" filter="url(#shK)">227</text><text x="1144.38" y="1009.50" font-size="46.90" textLength="4.73" lengthAdjust="spacingAndGlyphs" fill="#222" stroke="#222" stroke-width="0.3" filter="url(#shKb)">|</text><text x="1188.17" y="1013.00" font-size="54.50" textLength="14.86" lengthAdjust="spacingAndGlyphs" fill="#000" stroke="#000" stroke-width="0.25" filter="url(#shG)">0</text><text x="1203.57" y="1009.50" font-size="46.90" textLength="5.36" lengthAdjust="spacingAndGlyphs" fill="#222" stroke="#222" stroke-width="0.3" filter="url(#shGb)">|</text><text x="1216.57" y="1013.00" font-size="54.00" textLength="85.85" lengthAdjust="spacingAndGlyphs" fill="#000" stroke="#000" stroke-width="0.25" filter="url(#shG)">qarbon</text><text x="1310.55" y="1009.50" font-size="46.90" textLength="5.99" lengthAdjust="spacingAndGlyphs" fill="#222" stroke="#222" stroke-width="0.3" filter="url(#shGb)">|</text><text x="1322.14" y="1013.00" font-size="54.50" textLength="56.33" lengthAdjust="spacingAndGlyphs" fill="#000" stroke="#000" stroke-width="0.25" filter="url(#shG)">1600</text></g>
<rect x="208.3" y="0" width="1.5" height="1080" fill="#0c0c0c"/>
<rect x="1709.2" y="0" width="1.5" height="1080" fill="#0c0c0c"/>
<circle cx="179" cy="58" r="30" fill="#0b0b0b"/>
<circle cx="239" cy="58" r="30" fill="#0b0b0b"/>
<circle cx="1620" cy="58" r="30" fill="#0b0b0b"/>
<circle cx="1800" cy="58" r="30" fill="#0b0b0b"/>
<g transform="translate(309.7 51.8)" fill="none" stroke="#c4141c" stroke-width="1.1" stroke-opacity="0.9"><path d="M0 -26 V25 M-27 -1 H25 M-19 -20 L22 17 M-21 21 L24 -18"/><path d="M-13 -16 L20 -4 L4 20 L-20 8 Z M14 -24 L16 8 L-8 18"/></g>
<g opacity="0.08" stroke="#bbb" stroke-width="4" fill="none"><path d="M314.5 22V79M320 24V72M300 70L318 50"/></g>
<rect x="319.5" y="47.6" width="49" height="49" fill="none" stroke="#dcdcdc" stroke-width="3"/>
<path d="M328.6 88 L358.6 57.9" stroke="#dcdcdc" stroke-width="1.6"/>
<rect x="339" y="67.7" width="11" height="11" fill="#d0d0d0"/>
<path d="M306.7 108.3 H379.5" stroke="#cfcfcf" stroke-width="2"/>
<g fill="none" stroke-dasharray="2 2"><path d="M306 59.7H382M330.7 35V111" stroke="#444" stroke-width="1"/><path d="M306 86.3H382M357.3 35V111" stroke="#444" stroke-width="1"/></g>
<g fill="none" stroke-dasharray="2 2"><path d="M1668 42.5H1752M1694.5 16V100" stroke="#444" stroke-width="1"/><path d="M1668 73.5H1752M1725.5 16V100" stroke="#444" stroke-width="1"/></g>
<rect x="1704.3" y="72.7" width="11.5" height="11.5" fill="#d4d4d4"/>
<path d="M1675 92.8 H1746" stroke="#d0d0d0" stroke-width="2"/>
<g fill="none" stroke-width="0.9" stroke-dasharray="1.5 1.5"><path d="M30 131.4H145" stroke="#3a3a3a"/><path d="M43.4 118V236" stroke="#3a3a3a"/><path d="M30 144.8H145" stroke="#3a3a3a"/><path d="M56.8 118V236" stroke="#3a3a3a"/><path d="M30 158.2H145" stroke="#4a4a4a"/><path d="M70.2 118V236" stroke="#4a4a4a"/><path d="M30 171.6H145" stroke="#3a3a3a"/><path d="M83.6 118V236" stroke="#3a3a3a"/><path d="M30 185.0H145" stroke="#3a3a3a"/><path d="M97.0 118V236" stroke="#3a3a3a"/><path d="M30 198.4H145" stroke="#4a4a4a"/><path d="M110.4 118V236" stroke="#4a4a4a"/><path d="M30 211.8H145" stroke="#3a3a3a"/><path d="M123.8 118V236" stroke="#3a3a3a"/><path d="M30 225.2H145" stroke="#3a3a3a"/><path d="M137.2 118V236" stroke="#3a3a3a"/></g>
<g fill="none" stroke-width="0.9" stroke-dasharray="1.5 1.5"><path d="M240 191.4H355" stroke="#3a3a3a"/><path d="M253.4 178V296" stroke="#3a3a3a"/><path d="M240 204.8H355" stroke="#3a3a3a"/><path d="M266.8 178V296" stroke="#3a3a3a"/><path d="M240 218.2H355" stroke="#4a4a4a"/><path d="M280.2 178V296" stroke="#4a4a4a"/><path d="M240 231.6H355" stroke="#3a3a3a"/><path d="M293.6 178V296" stroke="#3a3a3a"/><path d="M240 245.0H355" stroke="#3a3a3a"/><path d="M307.0 178V296" stroke="#3a3a3a"/><path d="M240 258.4H355" stroke="#4a4a4a"/><path d="M320.4 178V296" stroke="#4a4a4a"/><path d="M240 271.8H355" stroke="#3a3a3a"/><path d="M333.8 178V296" stroke="#3a3a3a"/><path d="M240 285.2H355" stroke="#3a3a3a"/><path d="M347.2 178V296" stroke="#3a3a3a"/></g>
<g fill="none" stroke-width="0.9" stroke-dasharray="1.5 1.5"><path d="M1770 131.4H1888" stroke="#3a3a3a"/><path d="M1783.4 118V236" stroke="#3a3a3a"/><path d="M1770 144.8H1888" stroke="#3a3a3a"/><path d="M1796.8 118V236" stroke="#3a3a3a"/><path d="M1770 158.2H1888" stroke="#4a4a4a"/><path d="M1810.2 118V236" stroke="#4a4a4a"/><path d="M1770 171.6H1888" stroke="#3a3a3a"/><path d="M1823.6 118V236" stroke="#3a3a3a"/><path d="M1770 185.0H1888" stroke="#3a3a3a"/><path d="M1837.0 118V236" stroke="#3a3a3a"/><path d="M1770 198.4H1888" stroke="#4a4a4a"/><path d="M1850.4 118V236" stroke="#4a4a4a"/><path d="M1770 211.8H1888" stroke="#3a3a3a"/><path d="M1863.8 118V236" stroke="#3a3a3a"/><path d="M1770 225.2H1888" stroke="#3a3a3a"/><path d="M1877.2 118V236" stroke="#3a3a3a"/></g>
<g fill="none" stroke-width="0.9" stroke-dasharray="1.5 1.5"><path d="M1560 191.4H1678" stroke="#3a3a3a"/><path d="M1573.4 178V296" stroke="#3a3a3a"/><path d="M1560 204.8H1678" stroke="#3a3a3a"/><path d="M1586.8 178V296" stroke="#3a3a3a"/><path d="M1560 218.2H1678" stroke="#4a4a4a"/><path d="M1600.2 178V296" stroke="#4a4a4a"/><path d="M1560 231.6H1678" stroke="#3a3a3a"/><path d="M1613.6 178V296" stroke="#3a3a3a"/><path d="M1560 245.0H1678" stroke="#3a3a3a"/><path d="M1627.0 178V296" stroke="#3a3a3a"/><path d="M1560 258.4H1678" stroke="#4a4a4a"/><path d="M1640.4 178V296" stroke="#4a4a4a"/><path d="M1560 271.8H1678" stroke="#3a3a3a"/><path d="M1653.8 178V296" stroke="#3a3a3a"/><path d="M1560 285.2H1678" stroke="#3a3a3a"/><path d="M1667.2 178V296" stroke="#3a3a3a"/></g>
<path d="M35.5 130.5L35.5 123.5L42.5 123.5Z" fill="#bbb"/><rect x="35.5" y="224.5" width="7" height="7" fill="none" stroke="#ddd" stroke-width="1.3" stroke-dasharray="2 1"/>
<path d="M245.5 190.5L245.5 183.5L252.5 183.5Z" fill="#bbb"/><rect x="245.5" y="284.5" width="7" height="7" fill="none" stroke="#ddd" stroke-width="1.3" stroke-dasharray="2 1"/>
<rect x="1776" y="224.5" width="7" height="7" fill="none" stroke="#ddd" stroke-width="1.3" stroke-dasharray="2 1"/>
<rect x="1566" y="284.5" width="7" height="7" fill="none" stroke="#ddd" stroke-width="1.3" stroke-dasharray="2 1"/>
<path transform="translate(68.5 124.5)" d="M0 0 H74 V106.5 H53 V86 H0 Z" fill="none" stroke="#d8d8d8" stroke-width="3.3"/>
<path transform="translate(279 184.5)" d="M0 0 H74 V106.5 H53 V86 H0 Z" fill="url(#hatch)"/>
<path transform="translate(279 184.5)" d="M0 0 H74 V106.5 H53 V86 H0 Z" fill="none" stroke="#d8d8d8" stroke-width="3.3"/>
<path transform="translate(1777 124.5)" d="M0 0 H107.5 V107 H73 L54.5 87 C 74 82, 88 70, 88 51.5 C 88 34, 76 20, 61 20 H0 Z" fill="none" stroke="#d8d8d8" stroke-width="3.3"/>
<path transform="translate(1566.5 185)" d="M0 0 H107.5 V107 H73 L54.5 87 C 74 82, 88 70, 88 51.5 C 88 34, 76 20, 61 20 H0 Z" fill="url(#hatch2)"/>
<path transform="translate(1566.5 185)" d="M0 0 H107.5 V107 H73 L54.5 87 C 74 82, 88 70, 88 51.5 C 88 34, 76 20, 61 20 H0 Z" fill="none" stroke="#d8d8d8" stroke-width="3.3"/>
<defs><pattern id="hatch2" patternUnits="userSpaceOnUse" width="5" height="5" patternTransform="rotate(45)"><rect width="5" height="5" fill="#000" fill-opacity="0.0"/><line x1="0" y1="0" x2="0" y2="5" stroke="#dedede" stroke-width="1.8" stroke-dasharray="2.4 0.6"/></pattern></defs>
<g fill="none"><path d="M36 418.4H386M149 302.4V653.4" stroke="#2f2f2f" stroke-width="6"/><path d="M36 418.4H386M149 302.4V653.4" stroke="#383838" stroke-width="2" stroke-dasharray="3 1"/><path d="M36 538.4H386M269 302.4V653.4" stroke="#2f2f2f" stroke-width="6"/><path d="M36 538.4H386M269 302.4V653.4" stroke="#383838" stroke-width="2" stroke-dasharray="3 1"/><path d="M44 338.4H374M69 313.4V643.4" stroke="#353535" stroke-width="1.2" stroke-dasharray="3 2"/><path d="M44 378.4H374M109 313.4V643.4" stroke="#353535" stroke-width="1.2" stroke-dasharray="3 2"/><path d="M44 458.4H374M189 313.4V643.4" stroke="#353535" stroke-width="1.2" stroke-dasharray="3 2"/><path d="M44 498.4H374M229 313.4V643.4" stroke="#353535" stroke-width="1.2" stroke-dasharray="3 2"/><path d="M44 578.4H374M309 313.4V643.4" stroke="#353535" stroke-width="1.2" stroke-dasharray="3 2"/><path d="M44 618.4H374M349 313.4V643.4" stroke="#353535" stroke-width="1.2" stroke-dasharray="3 2"/><circle cx="209" cy="478.4" r="160.5" stroke="#8f8f8f" stroke-width="3"/><g transform="translate(209 478.4)" stroke="#9a9a9a" stroke-width="1"><path d="M0 -35 L-34.5 0 L-15.5 15 L15.5 15 L34.5 0 Z M0 -35 V15"/><path d="M0 16 L-14.5 35 H14.5 Z M0 16 V35"/><clipPath id="jc209"><path d="M0 -35 L34.5 0 L15.5 15 L0 15 Z M0 16 L14.5 35 H0 Z"/></clipPath><g clip-path="url(#jc209)" stroke-width="0.7"><path d="M-40 -76 L40 4 M-40 -71 L40 9 M-40 -66 L40 14 M-40 -61 L40 19 M-40 -56 L40 24 M-40 -51 L40 29 M-40 -46 L40 34 M-40 -41 L40 39 M-40 -36 L40 44 M-40 -31 L40 49 M-40 -26 L40 54 M-40 -21 L40 59 M-40 -16 L40 64 M-40 -11 L40 69 M-40 -6 L40 74 M-40 -1 L40 79 M-40 4 L40 84 M-40 9 L40 89 "/></g></g></g>
<g fill="none"><path d="M1536.7 418.4H1886.7M1649.7 302.4V653.4" stroke="#2f2f2f" stroke-width="6"/><path d="M1536.7 418.4H1886.7M1649.7 302.4V653.4" stroke="#383838" stroke-width="2" stroke-dasharray="3 1"/><path d="M1536.7 538.4H1886.7M1769.7 302.4V653.4" stroke="#2f2f2f" stroke-width="6"/><path d="M1536.7 538.4H1886.7M1769.7 302.4V653.4" stroke="#383838" stroke-width="2" stroke-dasharray="3 1"/><path d="M1544.7 338.4H1874.7M1569.7 313.4V643.4" stroke="#353535" stroke-width="1.2" stroke-dasharray="3 2"/><path d="M1544.7 378.4H1874.7M1609.7 313.4V643.4" stroke="#353535" stroke-width="1.2" stroke-dasharray="3 2"/><path d="M1544.7 458.4H1874.7M1689.7 313.4V643.4" stroke="#353535" stroke-width="1.2" stroke-dasharray="3 2"/><path d="M1544.7 498.4H1874.7M1729.7 313.4V643.4" stroke="#353535" stroke-width="1.2" stroke-dasharray="3 2"/><path d="M1544.7 578.4H1874.7M1809.7 313.4V643.4" stroke="#353535" stroke-width="1.2" stroke-dasharray="3 2"/><path d="M1544.7 618.4H1874.7M1849.7 313.4V643.4" stroke="#353535" stroke-width="1.2" stroke-dasharray="3 2"/><circle cx="1709.7" cy="478.4" r="160.5" stroke="#8f8f8f" stroke-width="3"/><g transform="translate(1709.7 478.4)" stroke="#9a9a9a" stroke-width="1"><path d="M0 -35 L-34.5 0 L-15.5 15 L15.5 15 L34.5 0 Z M0 -35 V15"/><path d="M0 16 L-14.5 35 H14.5 Z M0 16 V35"/><clipPath id="jc1709"><path d="M0 -35 L34.5 0 L15.5 15 L0 15 Z M0 16 L14.5 35 H0 Z"/></clipPath><g clip-path="url(#jc1709)" stroke-width="0.7"><path d="M-40 -76 L40 4 M-40 -71 L40 9 M-40 -66 L40 14 M-40 -61 L40 19 M-40 -56 L40 24 M-40 -51 L40 29 M-40 -46 L40 34 M-40 -41 L40 39 M-40 -36 L40 44 M-40 -31 L40 49 M-40 -26 L40 54 M-40 -21 L40 59 M-40 -16 L40 64 M-40 -11 L40 69 M-40 -6 L40 74 M-40 -1 L40 79 M-40 4 L40 84 M-40 9 L40 89 "/></g></g></g>
<g transform="matrix(1,0,0,1,89,838)"><g fill="none" stroke-dasharray="2 2"><path d="M-60 -20H60M-20 -60V60" stroke="#444" stroke-width="1"/><path d="M-60 20H60M20 -60V60" stroke="#444" stroke-width="1"/><path d="M-52 -46.7H52M-46.7 -52V52" stroke="#3a3a3a" stroke-width="0.8"/><path d="M-52 -33.3H52M-33.3 -52V52" stroke="#3a3a3a" stroke-width="0.8"/><path d="M-52 -6.7H52M-6.7 -52V52" stroke="#3a3a3a" stroke-width="0.8"/><path d="M-52 6.7H52M6.7 -52V52" stroke="#3a3a3a" stroke-width="0.8"/><path d="M-52 33.3H52M33.3 -52V52" stroke="#3a3a3a" stroke-width="0.8"/><path d="M-52 46.7H52M46.7 -52V52" stroke="#3a3a3a" stroke-width="0.8"/></g><path d="M6 -45 L-48 0 L6 46 M6 -45 V-21 H34 V-8 M6 46 V21 H34 V7 M-7 -36 V-6.5 H47 V7 H-7 V31 M-48 -21 V-47 H-22 M22 -47 H48 V-21 M-48 21 V47 H-22 M22 47 H48 V21" fill="none" stroke="#e2e2e2" stroke-width="3.8" stroke-opacity="1" stroke-linejoin="round" filter="url(#chalkf)"/></g>
<g transform="matrix(-1,0,0,1,329.2,838)"><g fill="none" stroke-dasharray="2 2"><path d="M-60 -20H60M-20 -60V60" stroke="#444" stroke-width="1"/><path d="M-60 20H60M20 -60V60" stroke="#444" stroke-width="1"/><path d="M-52 -46.7H52M-46.7 -52V52" stroke="#3a3a3a" stroke-width="0.8"/><path d="M-52 -33.3H52M-33.3 -52V52" stroke="#3a3a3a" stroke-width="0.8"/><path d="M-52 -6.7H52M-6.7 -52V52" stroke="#3a3a3a" stroke-width="0.8"/><path d="M-52 6.7H52M6.7 -52V52" stroke="#3a3a3a" stroke-width="0.8"/><path d="M-52 33.3H52M33.3 -52V52" stroke="#3a3a3a" stroke-width="0.8"/><path d="M-52 46.7H52M46.7 -52V52" stroke="#3a3a3a" stroke-width="0.8"/></g><path d="M6 -45 L-48 0 L6 46 M6 -45 V-21 H34 V-8 M6 46 V21 H34 V7 M-7 -36 V-6.5 H47 V7 H-7 V31 M-48 -21 V-47 H-22 M22 -47 H48 V-21 M-48 21 V47 H-22 M22 47 H48 V21" fill="none" stroke="#e2e2e2" stroke-width="3.8" stroke-opacity="1" stroke-linejoin="round" filter="url(#chalkf)"/></g>
<g transform="matrix(0,1,1,0,209.2,718.5)"><g fill="none" stroke-dasharray="2 2"><path d="M-60 -20H60M-20 -60V60" stroke="#444" stroke-width="1"/><path d="M-60 20H60M20 -60V60" stroke="#444" stroke-width="1"/><path d="M-52 -46.7H52M-46.7 -52V52" stroke="#3a3a3a" stroke-width="0.8"/><path d="M-52 -33.3H52M-33.3 -52V52" stroke="#3a3a3a" stroke-width="0.8"/><path d="M-52 -6.7H52M-6.7 -52V52" stroke="#3a3a3a" stroke-width="0.8"/><path d="M-52 6.7H52M6.7 -52V52" stroke="#3a3a3a" stroke-width="0.8"/><path d="M-52 33.3H52M33.3 -52V52" stroke="#3a3a3a" stroke-width="0.8"/><path d="M-52 46.7H52M46.7 -52V52" stroke="#3a3a3a" stroke-width="0.8"/></g><path d="M6 -45 L-48 0 L6 46 M6 -45 V-21 H34 V-8 M6 46 V21 H34 V7 M-7 -36 V-6.5 H47 V7 H-7 V31 M-48 -21 V-47 H-22 M22 -47 H48 V-21 M-48 21 V47 H-22 M22 47 H48 V21" fill="none" stroke="#e2e2e2" stroke-width="3.8" stroke-opacity="1" stroke-linejoin="round" filter="url(#chalkf)"/></g>
<g transform="matrix(0,-1,1,0,209.2,958)"><g fill="none" stroke-dasharray="2 2"><path d="M-60 -20H60M-20 -60V60" stroke="#444" stroke-width="1"/><path d="M-60 20H60M20 -60V60" stroke="#444" stroke-width="1"/><path d="M-52 -46.7H52M-46.7 -52V52" stroke="#3a3a3a" stroke-width="0.8"/><path d="M-52 -33.3H52M-33.3 -52V52" stroke="#3a3a3a" stroke-width="0.8"/><path d="M-52 -6.7H52M-6.7 -52V52" stroke="#3a3a3a" stroke-width="0.8"/><path d="M-52 6.7H52M6.7 -52V52" stroke="#3a3a3a" stroke-width="0.8"/><path d="M-52 33.3H52M33.3 -52V52" stroke="#3a3a3a" stroke-width="0.8"/><path d="M-52 46.7H52M46.7 -52V52" stroke="#3a3a3a" stroke-width="0.8"/></g><path d="M6 -45 L-48 0 L6 46 M6 -45 V-21 H34 V-8 M6 46 V21 H34 V7 M-7 -36 V-6.5 H47 V7 H-7 V31 M-48 -21 V-47 H-22 M22 -47 H48 V-21 M-48 21 V47 H-22 M22 47 H48 V21" fill="none" stroke="#e2e2e2" stroke-width="3.8" stroke-opacity="1" stroke-linejoin="round" filter="url(#chalkf)"/></g>
<defs><pattern id="hatchB" patternUnits="userSpaceOnUse" width="3" height="3" patternTransform="rotate(40)"><rect width="3" height="3" fill="#2a2a2a"/><line x1="0" y1="0" x2="0" y2="3" stroke="#d8d8d8" stroke-width="1.2" stroke-dasharray="1.5 0.5"/></pattern></defs>
<g transform="translate(1710 718)"><g fill="none" stroke-dasharray="2 2"><path d="M-60 -20H60M-20 -60V60" stroke="#444" stroke-width="1"/><path d="M-60 20H60M20 -60V60" stroke="#444" stroke-width="1"/><path d="M-52 -46.7H52M-46.7 -52V52" stroke="#3a3a3a" stroke-width="0.8"/><path d="M-52 -33.3H52M-33.3 -52V52" stroke="#3a3a3a" stroke-width="0.8"/><path d="M-52 -6.7H52M-6.7 -52V52" stroke="#3a3a3a" stroke-width="0.8"/><path d="M-52 6.7H52M6.7 -52V52" stroke="#3a3a3a" stroke-width="0.8"/><path d="M-52 33.3H52M33.3 -52V52" stroke="#3a3a3a" stroke-width="0.8"/><path d="M-52 46.7H52M46.7 -52V52" stroke="#3a3a3a" stroke-width="0.8"/></g><rect x="-47" y="-47" width="14" height="14" fill="none" stroke="#d0d0d0" stroke-width="1.6" stroke-dasharray="2.5 1"/><rect x="33" y="-47" width="14" height="14" fill="none" stroke="#d0d0d0" stroke-width="1.6" stroke-dasharray="2.5 1"/><rect x="-47" y="33" width="14" height="14" fill="none" stroke="#d0d0d0" stroke-width="1.6" stroke-dasharray="2.5 1"/><rect x="33" y="33" width="14" height="14" fill="none" stroke="#d0d0d0" stroke-width="1.6" stroke-dasharray="2.5 1"/><path d="M0 -32 L32.2 7 L20 21.4 L0 16 Z" fill="url(#hatchB)"/><path d="M0 20.3 L20 34.2 L0 34.2 Z" fill="url(#hatchB)"/><path d="M0 -32 L-32.2 7 L-20 21.4 L0 16 L20 21.4 L32.2 7 Z M0 -32 V16 M0 20.3 L-20.6 33.7 H20 Z M0 20.3 V34" fill="none" stroke="#e2e2e2" stroke-width="1.6" stroke-opacity="1" stroke-linejoin="round" filter="url(#chalkf)"/></g>
<g transform="translate(1590.4 838)"><g fill="none" stroke-dasharray="2 2"><path d="M-60 -20H60M-20 -60V60" stroke="#444" stroke-width="1"/><path d="M-60 20H60M20 -60V60" stroke="#444" stroke-width="1"/><path d="M-52 -46.7H52M-46.7 -52V52" stroke="#3a3a3a" stroke-width="0.8"/><path d="M-52 -33.3H52M-33.3 -52V52" stroke="#3a3a3a" stroke-width="0.8"/><path d="M-52 -6.7H52M-6.7 -52V52" stroke="#3a3a3a" stroke-width="0.8"/><path d="M-52 6.7H52M6.7 -52V52" stroke="#3a3a3a" stroke-width="0.8"/><path d="M-52 33.3H52M33.3 -52V52" stroke="#3a3a3a" stroke-width="0.8"/><path d="M-52 46.7H52M46.7 -52V52" stroke="#3a3a3a" stroke-width="0.8"/></g><rect x="-47" y="-47" width="14" height="14" fill="none" stroke="#d0d0d0" stroke-width="1.6" stroke-dasharray="2.5 1"/><rect x="33" y="-47" width="14" height="14" fill="none" stroke="#d0d0d0" stroke-width="1.6" stroke-dasharray="2.5 1"/><rect x="-47" y="33" width="14" height="14" fill="none" stroke="#d0d0d0" stroke-width="1.6" stroke-dasharray="2.5 1"/><rect x="33" y="33" width="14" height="14" fill="none" stroke="#d0d0d0" stroke-width="1.6" stroke-dasharray="2.5 1"/><path d="M0 -33 L24.6 0 L0 33.7 Z" fill="url(#hatchB)"/><path d="M0 -33 L-26.4 0 L0 33.7 L24.6 0 Z M0 -33 V33.7" fill="none" stroke="#e2e2e2" stroke-width="1.5" stroke-opacity="1" stroke-linejoin="round" filter="url(#chalkf)"/></g>
<g transform="translate(1829.6 838)"><g fill="none" stroke-dasharray="2 2"><path d="M-60 -20H60M-20 -60V60" stroke="#444" stroke-width="1"/><path d="M-60 20H60M20 -60V60" stroke="#444" stroke-width="1"/><path d="M-52 -46.7H52M-46.7 -52V52" stroke="#3a3a3a" stroke-width="0.8"/><path d="M-52 -33.3H52M-33.3 -52V52" stroke="#3a3a3a" stroke-width="0.8"/><path d="M-52 -6.7H52M-6.7 -52V52" stroke="#3a3a3a" stroke-width="0.8"/><path d="M-52 6.7H52M6.7 -52V52" stroke="#3a3a3a" stroke-width="0.8"/><path d="M-52 33.3H52M33.3 -52V52" stroke="#3a3a3a" stroke-width="0.8"/><path d="M-52 46.7H52M46.7 -52V52" stroke="#3a3a3a" stroke-width="0.8"/></g><rect x="-47" y="-47" width="14" height="14" fill="none" stroke="#d0d0d0" stroke-width="1.6" stroke-dasharray="2.5 1"/><rect x="33" y="-47" width="14" height="14" fill="none" stroke="#d0d0d0" stroke-width="1.6" stroke-dasharray="2.5 1"/><rect x="-47" y="33" width="14" height="14" fill="none" stroke="#d0d0d0" stroke-width="1.6" stroke-dasharray="2.5 1"/><rect x="33" y="33" width="14" height="14" fill="none" stroke="#d0d0d0" stroke-width="1.6" stroke-dasharray="2.5 1"/><path d="M0 -33 A14 14 0 0 1 0 -5 Z" fill="url(#hatchB)"/><circle cx="19.4" cy="0" r="14" fill="url(#hatchB)"/><path d="M0 2 L14 33.7 H0 Z" fill="url(#hatchB)"/><path d="M14 -19 A14 14 0 1 1 -14 -19 A14 14 0 1 1 14 -19 Z M-5.6 0 A14 14 0 1 1 -33.6 0 A14 14 0 1 1 -5.6 0 Z M33.4 0 A14 14 0 1 1 5.4 0 A14 14 0 1 1 33.4 0 Z M0 2 L-12.6 33.7 H14 Z M0 -33 V33.7" fill="none" stroke="#e2e2e2" stroke-width="1.3" stroke-opacity="1" stroke-linejoin="round" filter="url(#chalkf)"/></g>
<defs><pattern id="xh" patternUnits="userSpaceOnUse" width="3.2" height="3.2" patternTransform="rotate(25)"><rect width="3.2" height="3.2" fill="#2a2a2a"/><path d="M0 0V3.2M0 0H3.2" stroke="#d6d6d6" stroke-width="1.1" stroke-dasharray="1.6 0.5"/></pattern></defs>
<g transform="translate(1710 958)"><g fill="none" stroke-dasharray="2 2"><path d="M-60 -20H60M-20 -60V60" stroke="#444" stroke-width="1"/><path d="M-60 20H60M20 -60V60" stroke="#444" stroke-width="1"/><path d="M-52 -46.7H52M-46.7 -52V52" stroke="#3a3a3a" stroke-width="0.8"/><path d="M-52 -33.3H52M-33.3 -52V52" stroke="#3a3a3a" stroke-width="0.8"/><path d="M-52 -6.7H52M-6.7 -52V52" stroke="#3a3a3a" stroke-width="0.8"/><path d="M-52 6.7H52M6.7 -52V52" stroke="#3a3a3a" stroke-width="0.8"/><path d="M-52 33.3H52M33.3 -52V52" stroke="#3a3a3a" stroke-width="0.8"/><path d="M-52 46.7H52M46.7 -52V52" stroke="#3a3a3a" stroke-width="0.8"/></g><rect x="-47" y="-47" width="14" height="14" fill="none" stroke="#d0d0d0" stroke-width="1.6" stroke-dasharray="2.5 1"/><rect x="33" y="-47" width="14" height="14" fill="none" stroke="#d0d0d0" stroke-width="1.6" stroke-dasharray="2.5 1"/><rect x="-47" y="33" width="14" height="14" fill="none" stroke="#d0d0d0" stroke-width="1.6" stroke-dasharray="2.5 1"/><rect x="33" y="33" width="14" height="14" fill="none" stroke="#d0d0d0" stroke-width="1.6" stroke-dasharray="2.5 1"/><path d="M-26.7 -13.6 L2.2 -25.8 L28.9 -23.6 L31.1 -4.7 L24.4 17.6 L0 35.3 L-15.6 19.8 L-23.3 4.2 Z" fill="url(#xh)"/><path d="M-32.2 -13.6 L-13.3 -31.9 L-2.2 -26.9 L12.2 -31.9 L28.9 -24.7 L34.4 -11.3 L31 -0.2 L0 35.3 L-23.3 17.6 L-31.1 -0.2 Z" fill="none" stroke="#e2e2e2" stroke-width="1.3" stroke-opacity="1" stroke-linejoin="round" filter="url(#chalkf)"/><path d="M-26.7 -13.6 L2.2 -25.8 L28.9 -23.6 L31.1 -4.7 L24.4 17.6 L0 35.3 L-15.6 19.8 L-23.3 4.2 Z" fill="none" stroke="#e2e2e2" stroke-width="1.2" stroke-opacity="1" stroke-linejoin="round" filter="url(#chalkf)"/></g>
<g fill="#141486"><rect x="1679" y="900" width="2" height="120"/><rect x="1739" y="900" width="2" height="120"/></g><rect x="1500" y="958" width="420" height="2" fill="#10107e"/>
</svg></body></html>
